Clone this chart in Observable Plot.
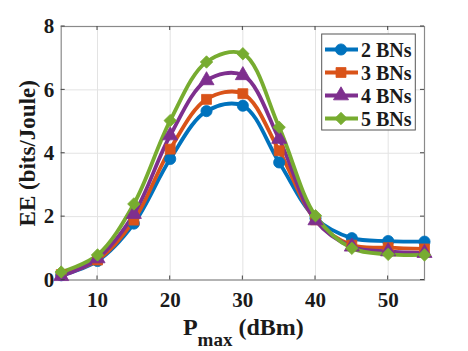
<!DOCTYPE html>
<html><head><meta charset="utf-8">
<script src="https://cdn.jsdelivr.net/npm/d3@7"></script>
<script src="https://cdn.jsdelivr.net/npm/@observablehq/plot@0.6"></script>
<style>body{margin:0;background:#fff}#c{position:relative;width:468px;height:351px}</style>
</head><body><div id="c"></div>
<script>
const xValues = [5, 10, 15, 20, 25, 30, 35, 40, 45, 50, 55];
const ee2 = [0.15, 0.60, 1.78, 3.82, 5.33, 5.50, 3.71, 1.95, 1.32, 1.23, 1.21];
const ee3 = [0.17, 0.63, 1.89, 4.13, 5.70, 5.88, 4.08, 1.90, 1.10, 1.02, 0.98];
const ee4 = [0.12, 0.68, 2.08, 4.56, 6.30, 6.46, 4.45, 1.88, 1.05, 0.90, 0.85];
const ee5 = [0.25, 0.79, 2.40, 5.03, 6.88, 7.14, 4.82, 2.03, 1.00, 0.81, 0.79];
const seriesNames = ["2 BNs", "3 BNs", "4 BNs", "5 BNs"];
const seriesColors = ["#0072BD", "#D95319", "#7E2F8E", "#77AC30"];
const seriesSymbols = ["circle", "square", "triangle", "diamond2"];
const xTicks = [10, 20, 30, 40, 50];
const yTicks = [0, 2, 4, 6, 8];
const xLabel = "P", xSub = "max", xUnit = " (dBm)";
const yLabel = "EE (bits/Joule)";

const allSeries = [ee2, ee3, ee4, ee5];
const rows = [];
allSeries.forEach((vals, i) => vals.forEach((v, j) => rows.push({x: xValues[j], y: v, s: seriesNames[i]})));

const font = "'Liberation Serif', 'Times New Roman', serif";
const LW = 3.8, R = 5.6;
const plot = Plot.plot({
  width: 468, height: 351,
  marginLeft: 60.7, marginRight: 44, marginTop: 26, marginBottom: 71.5,
  style: {fontFamily: font, fontWeight: "bold", background: "#fff", color: "#1a1a1a"},
  x: {domain: [5, 55], label: null},
  y: {domain: [0, 8], label: null},
  color: {domain: seriesNames, range: seriesColors},
  symbol: {domain: seriesNames, range: seriesSymbols},
  marks: [
    Plot.gridX(xTicks, {stroke: "#e3e3e3", strokeOpacity: 1}),
    Plot.gridY(yTicks, {stroke: "#e3e3e3", strokeOpacity: 1}),
    Plot.frame({stroke: "#8a8a8a", strokeWidth: 1.2}),
    Plot.axisX({ticks: xTicks, tickSize: 0, tickPadding: 12, fontSize: 21, fill: "#1a1a1a", label: null}),
    Plot.axisY({ticks: yTicks, tickSize: 0, tickPadding: 7, fontSize: 21, fill: "#1a1a1a", label: null}),
    Plot.line(rows, {x: "x", y: "y", z: "s", stroke: "s", curve: "catmull-rom", strokeWidth: LW}),
    Plot.dot(rows, {x: "x", y: "y", fill: "s", symbol: "s", r: R, stroke: "s", strokeWidth: 0.8}),
    Plot.text([yLabel], {frameAnchor: "left", textAnchor: "middle", lineAnchor: "middle", rotate: -90, dx: -34, fontSize: 23, fill: "#1a1a1a"})
  ]
});
document.getElementById("c").appendChild(plot);

const svg = d3.select(plot);
const xs = plot.scale("x"), ys = plot.scale("y");
const X0 = xs.apply(5), X1 = xs.apply(55), Y0 = ys.apply(0), Y1 = ys.apply(8);
const tg = svg.append("g").attr("stroke", "#444").attr("stroke-width", 1);
xTicks.forEach(t => {
  const px = xs.apply(t);
  tg.append("line").attr("x1", px).attr("x2", px).attr("y1", Y0).attr("y2", Y0 - 4);
  tg.append("line").attr("x1", px).attr("x2", px).attr("y1", Y1).attr("y2", Y1 + 4);
});
yTicks.forEach(t => {
  const py = ys.apply(t);
  tg.append("line").attr("x1", X0).attr("x2", X0 + 4).attr("y1", py).attr("y2", py);
  tg.append("line").attr("x1", X1).attr("x2", X1 - 4).attr("y1", py).attr("y2", py);
});

// x label with subscript
const xl = svg.append("text").attr("x", (X0 + X1) / 2 + 1).attr("y", 335)
  .attr("text-anchor", "middle").attr("font-size", 24).attr("font-family", font)
  .attr("font-weight", "bold").attr("fill", "#1a1a1a");
xl.append("tspan").text(xLabel);
xl.append("tspan").attr("font-size", 19).attr("dy", 11).text(xSub);
xl.append("tspan").attr("dy", -11).text(xUnit);

// legend
const symMap = {circle: d3.symbolCircle, square: d3.symbolSquare, triangle: d3.symbolTriangle, diamond2: d3.symbolDiamond2};
const lg = svg.append("g");
lg.append("rect").attr("x", 321.7).attr("y", 34).attr("width", 93.6).attr("height", 96)
  .attr("fill", "#fff").attr("stroke", "#555").attr("stroke-width", 1);
seriesNames.forEach((n, i) => {
  const cy = 49.5 + i * 23;
  lg.append("line").attr("x1", 325).attr("x2", 358).attr("y1", cy).attr("y2", cy)
    .attr("stroke", seriesColors[i]).attr("stroke-width", LW);
  const sym = d3.symbol(symMap[seriesSymbols[i]], Math.PI * R * R);
  lg.append("path").attr("d", sym()).attr("transform", `translate(341,${cy})`)
    .attr("fill", seriesColors[i]).attr("stroke", seriesColors[i]).attr("stroke-width", 0.8);
  lg.append("text").attr("x", 361).attr("y", cy).attr("dy", "0.35em").attr("font-size", 20)
    .attr("text-anchor", "start")
    .attr("font-family", font).attr("font-weight", "bold").attr("fill", "#1a1a1a").text(n);
});
</script></body></html>
